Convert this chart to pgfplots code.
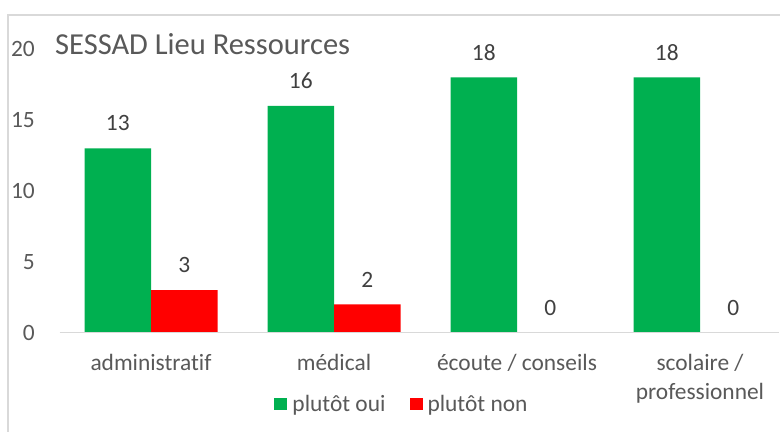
\documentclass[border=0pt]{standalone}
\usepackage{fontspec}
\setmainfont{Carlito}[Ligatures={NoCommon}]
\usepackage{pgfplots}
\pgfplotsset{compat=1.18}
\definecolor{cgreen}{HTML}{00B050}
\definecolor{cred}{HTML}{FF0000}
\definecolor{ctick}{HTML}{595959}
\definecolor{clabel}{HTML}{404040}
\definecolor{cline}{HTML}{D9D9D9}
\newcommand{\lblfont}{\fontsize{23.4bp}{29bp}\selectfont}
\pgfplotsset{sqlegend/.style={legend image code/.code={\fill[##1,draw=none] (0bp,-6bp) rectangle (13bp,6bp);}}}
\begin{document}
\begin{tikzpicture}
\useasboundingbox (0,0) rectangle (780bp,432bp);
\fill[white] (0,0) rectangle (780bp,432bp);
\draw[cline, line width=1.3bp] (8bp,0) -- (8bp,417bp) -- (780bp,417bp);
\begin{axis}[
  at={(59.5bp,99.3bp)}, anchor=south west,
  x=183bp, y=14.18bp,
  xmin=-0.5, xmax=3.434, ymin=0, ymax=20,
  ybar=0pt, bar width=66.5bp,
  axis line style={draw=none},
  major tick length=0pt,
  ytick={0,5,10,15,20},
  xtick={0,1,2,3},
  xticklabels={administratif, médical, écoute / conseils, {scolaire /\\professionnel}},
  /pgf/number format/assume math mode=true,
  tick label style={font=\lblfont, text=ctick},
  yticklabel style={anchor=east, inner sep=0pt, xshift=-24.5bp},
  xticklabel style={anchor=north, inner sep=0pt, align=center, yshift=-21.3bp},
  nodes near coords,
  every node near coord/.append style={font=\lblfont, text=clabel, anchor=south, inner sep=0pt, yshift=17bp},
  clip=false,
  sqlegend,
  legend columns=2,
  legend style={at={(0.4778,-0.2514)}, anchor=center, draw=none, fill=none,
    font=\lblfont, text=ctick,
    nodes={inner sep=0pt, inner xsep=5bp},
    /tikz/every even column/.append style={column sep=19bp}},
]
\addplot[fill=cgreen, draw=none, sqlegend] coordinates {(0,13) (1,16) (2,18) (3,18)};
\addplot[fill=cred, draw=none, sqlegend] coordinates {(0,3) (1,2) (2,0) (3,0)};
\legend{plutôt oui, plutôt non}
\draw[cline, line width=1.3bp] (axis cs:-0.5,0) -- (axis cs:3.434,0);
\end{axis}
\node[anchor=base west, inner sep=0pt, text=ctick, font=\fontsize{30.5bp}{36bp}\selectfont] at (55bp,377bp) {SESSAD Lieu Ressources};
\end{tikzpicture}
\end{document}
